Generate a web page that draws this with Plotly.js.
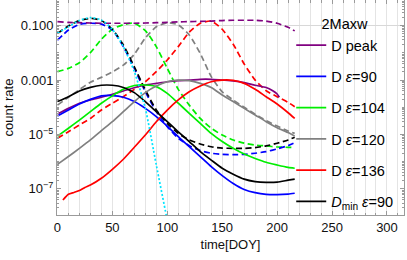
<!DOCTYPE html>
<html>
<head>
<meta charset="utf-8">
<script src="https://cdn.plot.ly/plotly-3.0.1.min.js"></script>
<style>html,body{margin:0;padding:0;background:#fff;}#chart{width:407px;height:260px;}</style>
</head>
<body>
<div id="chart"></div>
<script>
// time [DOY] sample points
const days = [0,10,20,30,40,50,60,70,80,90,100,110,120,130,140,150,160,170,180,190,200,210,216];
const daysCyan = [0,10,20,30,40,50,60,70,80,90,99,101];
const daysRed = [5,10,15,20,25,30,40,50,60,70,80,90,100,110,120,130,140,150,160,170,180,190,200,210,216];
const daysPeak = [0,10,20,30,40,50,60,70,80,90,100,110,120,130,140,150,160,170,180,190,196,200,202];

// count rates, given as log10 values
const peakSolid = [-4.25,-4.04,-3.85,-3.73,-3.63,-3.52,-3.40,-3.28,-3.18,-3.12,-3.06,-3.02,-3.00,-2.97,-2.97,-3.00,-3.03,-3.09,-3.19,-3.27,-3.39,-3.51,-3.63];
const peakDash = [-0.85,-0.88,-0.89,-0.90,-0.91,-0.91,-0.91,-0.91,-0.90,-0.89,-0.88,-0.86,-0.85,-0.84,-0.83,-0.81,-0.80,-0.80,-0.80,-0.83,-0.91,-1.06,-1.19];
const e90Solid = [-4.32,-4.10,-3.88,-3.71,-3.58,-3.57,-3.63,-3.79,-4.04,-4.34,-4.69,-5.08,-5.45,-5.81,-6.18,-6.51,-6.80,-7.02,-7.14,-7.20,-7.21,-7.19,-7.16];
const e90Dash = [-1.53,-1.16,-0.95,-0.91,-0.94,-1.16,-1.77,-2.57,-3.43,-4.16,-4.71,-5.14,-5.41,-5.59,-5.69,-5.73,-5.74,-5.73,-5.69,-5.63,-5.53,-5.41,-5.30];
const e104Solid = [-5.06,-4.77,-4.47,-4.16,-3.85,-3.58,-3.34,-3.20,-3.18,-3.24,-3.49,-3.85,-4.22,-4.59,-4.96,-5.26,-5.51,-5.72,-5.88,-6.02,-6.12,-6.21,-6.24];
const e104Dash = [-2.69,-2.57,-2.36,-1.99,-1.50,-1.13,-0.96,-0.91,-1.18,-1.77,-2.57,-3.34,-3.92,-4.41,-4.77,-5.02,-5.20,-5.32,-5.39,-5.42,-5.46,-5.47,-5.48];
const e120Solid = [-6.10,-5.81,-5.51,-5.20,-4.86,-4.53,-4.16,-3.79,-3.46,-3.22,-3.06,-3.00,-3.02,-3.12,-3.27,-3.55,-3.79,-4.04,-4.28,-4.53,-4.75,-4.93,-5.06];
const e120Dash = [-3.92,-3.63,-3.35,-3.08,-2.90,-2.70,-2.45,-2.05,-1.45,-1.04,-0.89,-0.97,-1.34,-2.02,-2.87,-3.43,-3.73,-4.00,-4.25,-4.49,-4.69,-4.87,-4.96];
const e136Solid = [-7.41,-7.20,-7.13,-7.06,-6.95,-6.86,-6.61,-6.28,-5.91,-5.47,-5.02,-4.53,-4.10,-3.73,-3.43,-3.22,-3.06,-3.00,-3.01,-3.12,-3.34,-3.61,-3.88,-4.20,-4.41];
const e136Dash = [-5.14,-4.90,-4.65,-4.41,-4.10,-3.85,-3.61,-3.34,-3.06,-2.69,-2.26,-1.77,-1.24,-0.91,-0.83,-1.13,-1.68,-2.41,-3.00,-3.39,-3.61,-3.82,-3.98];
const minSolid = [-3.79,-3.61,-3.40,-3.27,-3.19,-3.19,-3.27,-3.46,-3.79,-4.16,-4.53,-4.90,-5.26,-5.63,-5.94,-6.24,-6.46,-6.64,-6.73,-6.76,-6.75,-6.68,-6.64];
const minDash = [-1.28,-1.01,-0.81,-0.73,-0.81,-1.13,-1.71,-2.51,-3.36,-4.10,-4.59,-4.96,-5.20,-5.35,-5.45,-5.50,-5.51,-5.51,-5.48,-5.42,-5.32,-5.20,-5.10];
const cyanDot = [-1.28,-1.04,-0.81,-0.70,-0.79,-1.13,-1.77,-2.69,-4.04,-6.12,-7.96,-8.36];

const seriesNames = ["D peak","D <i>ε</i>=90","D <i>ε</i>=104","D <i>ε</i>=120","D <i>ε</i>=136","<i>D</i><sub>min</sub> <i>ε</i>=90"];
const legendTitle = "2Maxw";
const yTickVals = [1e-7,1e-5,1e-3,1e-1];
const yTickText = ["10<sup>−7</sup>","10<sup>−5</sup>","0.001","0.100"];

const pw = a => a.map(v => Math.pow(10, v));
const DASH = "6px,3.5px";
const W = 1.7;

function line(x, y, color, dash, name, show, grp) {
  return {
    type: "scatter", mode: "lines", x: x, y: pw(y),
    line: {color: color, width: W, dash: dash, shape: "spline", smoothing: 0.6},
    name: name || "", showlegend: !!show, legendgroup: grp || undefined,
    hoverinfo: "skip"
  };
}

const traces = [
  {type: "scatter", x: [], y: [], yaxis: "y2", showlegend: false, hoverinfo: "skip"},
  line(days, e120Dash, "#808080", DASH),
  line(days, e136Dash, "#ff0000", DASH),
  line(days, e104Dash, "#00ee00", DASH),
  line(days, e90Dash, "#0000ff", DASH),
  line(days, minDash, "#000000", DASH),
  line(days, peakDash, "#800080", DASH),
  line(daysPeak, peakSolid, "#800080", "solid", seriesNames[0], true, "g0"),
  line(days, e90Solid, "#0000ff", "solid", seriesNames[1], true, "g1"),
  line(days, e104Solid, "#00ee00", "solid", seriesNames[2], true, "g2"),
  line(days, e120Solid, "#808080", "solid", seriesNames[3], true, "g3"),
  line(daysRed, e136Solid, "#ff0000", "solid", seriesNames[4], true, "g4"),
  line(days, minSolid, "#000000", "solid", seriesNames[5], true, "g5"),
  line(daysCyan, cyanDot, "#00e5ff", "2px,2px")
];

const minorY = [];
for (let k = -9; k <= 0; k++) for (let m = 1; m <= 9; m++) {
  const v = m * Math.pow(10, k);
  if (!(m === 1 && [-7,-5,-3,-1].includes(k))) minorY.push(v);
}

const frame = "#9a9a9a";
const layout = {
  width: 407, height: 260,
  margin: {l: 57, r: 3, t: 0, b: 45, pad: 0},
  paper_bgcolor: "#ffffff", plot_bgcolor: "#ffffff",
  font: {family: "Liberation Sans, Arial, sans-serif", size: 13, color: "#111"},
  showlegend: true,
  legend: {
    x: 0.675, y: 0.952, xanchor: "left", yanchor: "top",
    bgcolor: "rgba(0,0,0,0)", borderwidth: 0,
    font: {size: 14.5, color: "#000"},
    title: {text: legendTitle, side: "top center", font: {size: 14.5, color: "#000"}},
    tracegroupgap: 9.4, itemwidth: 30, traceorder: "grouped"
  },
  xaxis: {
    range: [-0.4, 315.5], dtick: 50, tick0: 0,
    showline: true, linecolor: frame, linewidth: 1, mirror: "ticks",
    ticks: "inside", ticklen: 4, tickcolor: frame,
    showgrid: true, gridcolor: "#e4e4e4", gridwidth: 1, zeroline: false,
    minor: {dtick: 10, tick0: 0, ticks: "inside", ticklen: 2.5, tickcolor: frame, showgrid: true, gridcolor: "#e4e4e4"},
    title: {text: "time[DOY]", font: {size: 13}, standoff: 6},
    tickfont: {size: 13}
  },
  yaxis: {
    type: "log", range: [-7.96, -0.055],
    tickmode: "array", tickvals: yTickVals, ticktext: yTickText,
    showline: true, linecolor: frame, linewidth: 1, mirror: "ticks",
    ticks: "inside", ticklen: 4, tickcolor: frame,
    showgrid: false, zeroline: false,
    minor: {tickmode: "array", tickvals: minorY, ticks: "inside", ticklen: 2, tickcolor: frame, showgrid: false},
    title: {text: "count rate", font: {size: 13}, standoff: 4},
    tickfont: {size: 13}
  },
  yaxis2: {
    type: "log", range: [-7.96, -0.055], overlaying: "y", side: "left",
    tickmode: "array", tickvals: [0.1], showticklabels: false, ticks: "",
    showgrid: true, gridcolor: "#d8d8d8", showline: false, zeroline: false
  }
};

Plotly.newPlot("chart", traces, layout, {displayModeBar: false, staticPlot: true});
</script>
</body>
</html>
